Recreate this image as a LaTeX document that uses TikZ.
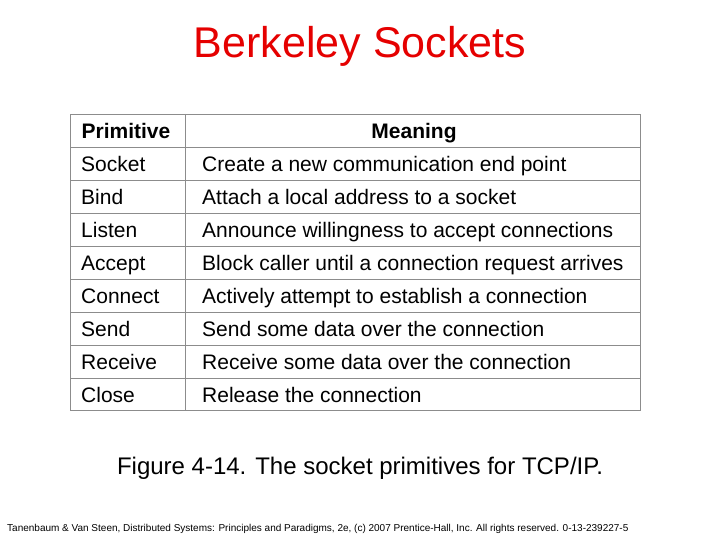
\documentclass[tikz,border=0pt]{standalone}
\usepackage{fontspec}
\setmainfont{Liberation Sans}
\begin{document}
\begin{tikzpicture}[x=1pt,y=-1pt,
  cell/.style={anchor=base west,font=\fontsize{21}{24}\selectfont,inner sep=0pt},
  hdr/.style={anchor=base,font=\fontsize{21}{24}\selectfont\bfseries,inner sep=0pt},
  grid/.style={draw=black!45,line width=0.8pt}]
\useasboundingbox (0,0) rectangle (720,540);
\node[text=red!90!black,font=\fontsize{43}{48}\selectfont] (title) at (360,46) {Berkeley Sockets};
\draw[grid] (70,114) rectangle (640,410);
\draw[grid] (185,114) -- (185,410);
\foreach \y in {147,180,213,246,279,312,345,378} \draw[grid] (70,\y) -- (640,\y);
\node[hdr] (h1) at (126,138.5) {Primitive};
\node[hdr] (h2) at (414,138.5) {Meaning};
\foreach \i/\p/\m in {1/Socket/Create a new communication end point,
  2/Bind/Attach a local address to a socket,
  3/Listen/Announce willingness to accept connections,
  4/Accept/Block caller until a connection request arrives,
  5/Connect/Actively attempt to establish a connection,
  6/Send/Send some data over the connection,
  7/Receive/Receive some data over the connection,
  8/Close/Release the connection}{
  \node[cell] (p\i) at (81,{138.5+33*\i}) {\p};
  \node[cell] (m\i) at (202,{138.5+33*\i}) {\m};
}
\node[font=\fontsize{24}{28}\selectfont] (cap) at (360,468) {Figure 4-14. The socket primitives for TCP/IP.};
\node[anchor=west,font=\fontsize{10}{12}\selectfont,inner sep=0pt] (foot) at (7,529) {Tanenbaum \& Van Steen, Distributed Systems: Principles and Paradigms, 2e, (c) 2007 Prentice-Hall, Inc. All rights reserved. 0-13-239227-5};
\end{tikzpicture}
\end{document}
